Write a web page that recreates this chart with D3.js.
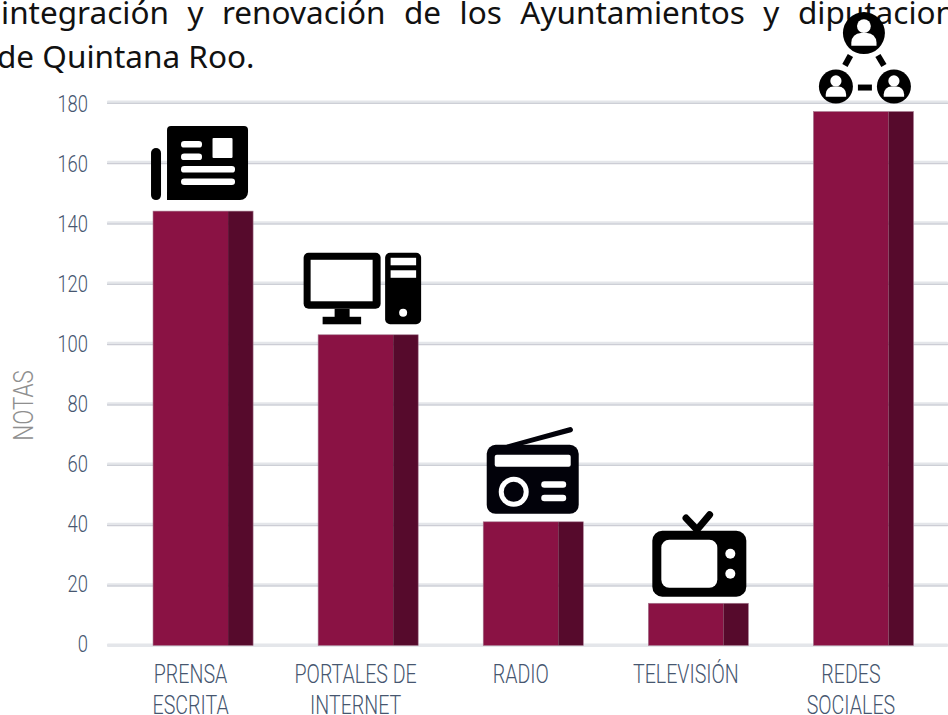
<!DOCTYPE html>
<html><head><meta charset="utf-8">
<style>
html,body{margin:0;padding:0;background:#fff;overflow:hidden}
svg{display:block}
</style>
<script src="https://cdn.jsdelivr.net/npm/d3@7"></script>
</head><body><svg id="c" width="948" height="715"></svg>
<script>
const categories = ["PRENSA ESCRITA","PORTALES DE INTERNET","RADIO","TELEVISIÓN","REDES SOCIALES"];
const labelLines = [["PRENSA","ESCRITA"],["PORTALES DE","INTERNET"],["RADIO"],["TELEVISIÓN"],["REDES","SOCIALES"]];
const values = [144,103,41,14,177];
const yTicks = [0,20,40,60,80,100,120,140,160,180];
const iconKeys = ["news","pc","radio","tv","social"];
const titleLines = ["integración y renovación de los Ayuntamientos y diputacion","de Quintana Roo."];
const yTitle = "NOTAS";

const svg = d3.select("#c");
const lightFont = "Roboto,'Liberation Sans',sans-serif";
const textCol = "#46566f";
const x = d3.scaleBand().domain(categories).range([120.5,946]).paddingInner(65/165).paddingOuter(0.197);
const y = d3.scaleLinear().domain([0,180]).range([645.5,102.5]);
const yLabel = d3.scaleLinear().domain([0,180]).range([643.3,103]);

// title
const t = svg.append("g").attr("font-family","'Noto Sans',sans-serif").attr("font-size",31.5).attr("fill","#111");
t.append("text").attr("x",1).attr("y",24).attr("word-spacing",10.3).text(titleLines[0]);
t.append("text").attr("x",-3).attr("y",67.5).text(titleLines[1]);

// grid
const grid = svg.append("g");
yTicks.forEach(v=>{
  grid.append("rect").attr("x",107).attr("width",841).attr("y",y(v)-2).attr("height",3.5).attr("rx",1).attr("fill","#e4e6ea");
  if(v>0) grid.append("rect").attr("x",107).attr("width",841).attr("y",y(v)+0.3).attr("height",1).attr("fill","#c8cad2");
});

// y axis
const ya = svg.append("g").attr("transform","translate(88,0)")
  .call(d3.axisLeft(yLabel).tickValues(yTicks).tickSize(0).tickPadding(0));
ya.select(".domain").remove();
ya.selectAll("text").attr("font-family",lightFont).attr("font-weight",300).attr("font-size",23).attr("fill",textCol)
  .attr("dy","0.36em").attr("transform","scale(0.8,1)");

svg.append("text").attr("transform","translate(33,405.5) rotate(-90) scale(0.8,1)").attr("text-anchor","middle")
  .attr("font-family",lightFont).attr("font-weight",300).attr("font-size",28).attr("fill","#8f8f8f").text(yTitle);

// bars
const bw = x.bandwidth();
const bars = svg.append("g").selectAll("g").data(categories).join("g");
bars.append("rect").attr("x",d=>x(d)).attr("width",bw*0.75)
  .attr("y",(d,i)=>y(values[i])).attr("height",(d,i)=>y(0)-y(values[i])).attr("fill","#8a1244");
bars.append("rect").attr("x",d=>x(d)+bw*0.75).attr("width",bw*0.25)
  .attr("y",(d,i)=>y(values[i])).attr("height",(d,i)=>y(0)-y(values[i])).attr("fill","#560a2c");
bars.append("rect").attr("x",d=>x(d)).attr("width",bw).attr("fill","none").attr("stroke","#a57a90").attr("stroke-width",0.6)
  .attr("y",(d,i)=>y(values[i])).attr("height",(d,i)=>y(0)-y(values[i]));

// x labels
const xl = svg.append("g").attr("font-family",lightFont).attr("font-weight",300).attr("font-size",25).attr("fill",textCol).attr("text-anchor","middle");
labelLines.forEach((lines,i)=>{
  lines.forEach((l,k)=>xl.append("text")
    .attr("transform",`translate(${x(categories[i])+bw*0.375},${683+k*31}) scale(0.785,1)`).text(l));
});

// icons: local coordinates relative to bar's top-left
const icons = {
  news(g){
    g.append("rect").attr("x",-2).attr("y",-63).attr("width",10).attr("height",52).attr("rx",5);
    g.append("path").attr("d","M14,-11V-81a4,4 0 0 1 4,-4H91a4,4 0 0 1 4,4V-19a8,8 0 0 1 -8,8Z");
    const w=g.append("g").attr("fill","#fff");
    [[28,-70,21,6.5],[28,-57.5,21,6.5],[28,-45,54,6.5],[28,-32.7,54,6.5]].forEach(r=>w.append("rect").attr("x",r[0]).attr("y",r[1]).attr("width",r[2]).attr("height",r[3]).attr("rx",3.2));
    w.append("rect").attr("x",59.5).attr("y",-73).attr("width",20).attr("height",20).attr("rx",1);
  },
  pc(g){
    g.append("rect").attr("x",-14.5).attr("y",-82).attr("width",77).attr("height",56).attr("rx",5);
    g.append("rect").attr("x",-7.5).attr("y",-75).attr("width",62).attr("height",41.5).attr("fill","#fff");
    g.append("rect").attr("x",16.5).attr("y",-26).attr("width",15).attr("height",10);
    g.append("rect").attr("x",4.5).attr("y",-18).attr("width",38.5).attr("height",7.5);
    g.append("rect").attr("x",67).attr("y",-82).attr("width",36).attr("height",71.5).attr("rx",5);
    const w=g.append("g").attr("fill","#fff");
    w.append("rect").attr("x",72.5).attr("y",-77).attr("width",25.5).attr("height",7.5);
    w.append("rect").attr("x",72.5).attr("y",-64.5).attr("width",25.5).attr("height",7.5);
    w.append("circle").attr("cx",85).attr("cy",-22).attr("r",4);
  },
  radio(g){
    g.append("path").attr("d","M23,-77L86,-94.5A2.6,2.6 0 0 1 88,-89.5L33,-75Z").attr("fill","#02020a");
    g.append("rect").attr("x",3.5).attr("y",-77).attr("width",92).attr("height",69).attr("rx",9).attr("fill","#02020a");
    const w=g.append("g").attr("fill","#fff");
    w.append("rect").attr("x",11.5).attr("y",-67).attr("width",76).attr("height",12).attr("rx",2);
    w.append("circle").attr("cx",30.5).attr("cy",-30).attr("r",15);
    g.append("circle").attr("cx",30.5).attr("cy",-30).attr("r",10).attr("fill","#02020a");
    w.append("rect").attr("x",58).attr("y",-40.5).attr("width",25).attr("height",6.5).attr("rx",3.2);
    w.append("rect").attr("x",58).attr("y",-27).attr("width",25).attr("height",6.5).attr("rx",3.2);
  },
  tv(g){
    g.append("path").attr("d","M37.7,-85.2L48.7,-73.5L61.3,-88.5").attr("fill","none").attr("stroke","#000").attr("stroke-width",7).attr("stroke-linecap","round");
    g.append("rect").attr("x",4).attr("y",-72.5).attr("width",94).attr("height",66).attr("rx",10);
    const w=g.append("g").attr("fill","#fff");
    w.append("rect").attr("x",13).attr("y",-63.5).attr("width",56).attr("height",48).attr("rx",8);
    w.append("circle").attr("cx",82).attr("cy",-49.5).attr("r",5);
    w.append("circle").attr("cx",82).attr("cy",-29.5).attr("r",5);
  },
  social(g){
    const person=(cx,cy,r)=>{
      g.append("circle").attr("cx",cx).attr("cy",cy).attr("r",r);
      g.append("circle").attr("cx",cx).attr("cy",cy-r*0.33).attr("r",r*0.33).attr("fill","#fff");
      g.append("path").attr("fill","#fff").attr("d",`M${cx-r*0.6},${cy+r*0.6}v${-r*0.15}a${r*0.45},${r*0.45} 0 0 1 ${r*0.45},${-r*0.45}h${r*0.3}a${r*0.45},${r*0.45} 0 0 1 ${r*0.45},${r*0.45}v${r*0.15}Z`);
    };
    person(50.5,-78.5,21); person(22.5,-25,17); person(80.5,-25,17);
    const s=g.append("g").attr("stroke","#000").attr("stroke-width",6).attr("fill","none");
    s.append("line").attr("x1",31.5).attr("y1",-46).attr("x2",37).attr("y2",-56);
    s.append("line").attr("x1",64.5).attr("y1",-56).attr("x2",70.5).attr("y2",-46);
    s.append("line").attr("x1",44.5).attr("y1",-24).attr("x2",58.5).attr("y2",-24);
  }
};
iconKeys.forEach((k,i)=>{
  const g = svg.append("g").attr("fill","#000").attr("transform",`translate(${x(categories[i])},${y(values[i])})`);
  icons[k](g);
});
</script></body></html>
